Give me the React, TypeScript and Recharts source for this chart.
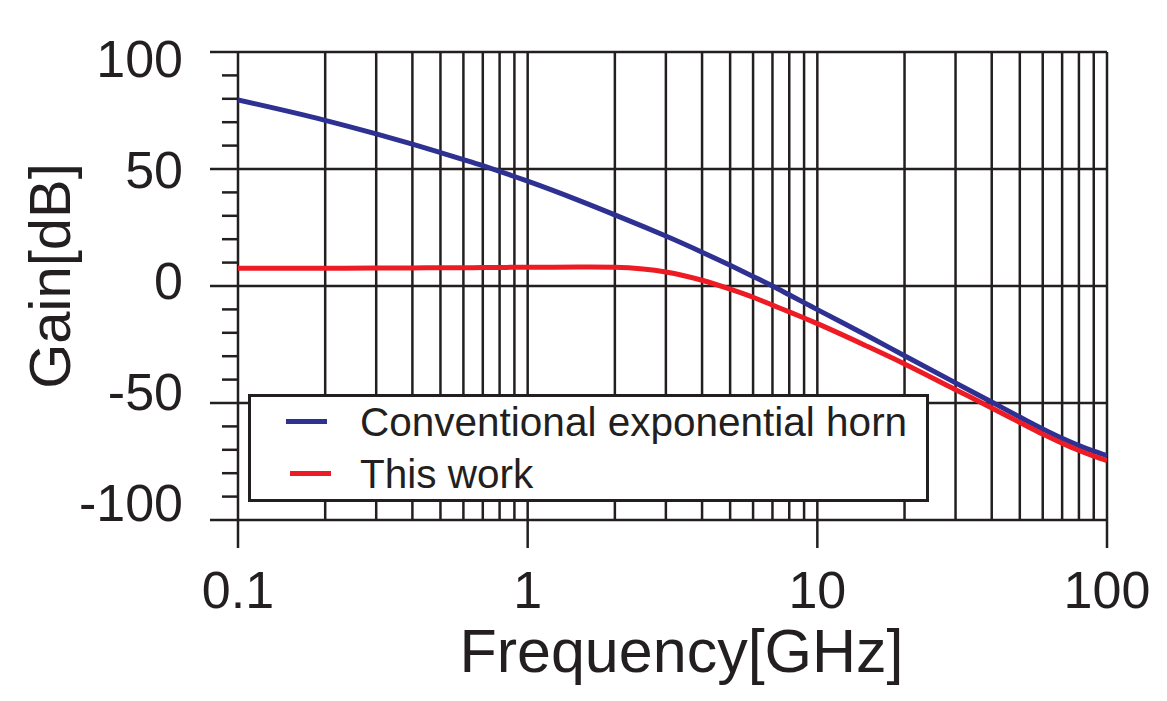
import { LineChart, Line, XAxis, YAxis, ReferenceLine, Legend } from 'recharts';

const freq = [0.1, 0.2, 0.3, 0.4, 0.5, 0.6, 0.7, 0.8, 0.9, 1, 1.5, 2, 2.5, 3, 4, 5, 6, 7, 8, 9, 10, 15, 20, 30, 40, 50, 60, 70, 80, 90, 100];
const conventional = [79.5, 70.8, 65.0, 60.6, 57.0, 54.0, 51.4, 49.0, 46.8, 44.8, 36.6, 30.4, 25.5, 21.35, 14.45, 8.85, 4.1, 0, -3.77, -7.1, -10.1, -21.5, -29.8, -41.4, -49.6, -56.0, -61.1, -65.1, -68.2, -70.6, -72.5];
const thisWork = [7.6, 7.6, 7.7, 7.7, 7.8, 7.8, 7.9, 7.9, 8.0, 8.0, 8.1, 8.0, 7.3, 6.0, 2.45, -1.35, -4.8, -8.2, -11.07, -13.7, -16.1, -26.0, -33.3, -44.3, -52.1, -58.3, -63.3, -67.2, -70.3, -72.7, -74.6];

const xTicks = [0.1, 1, 10, 100];
const xGrid = [0.1, 0.2, 0.3, 0.4, 0.5, 0.6, 0.7, 0.8, 0.9, 1, 2, 3, 4, 5, 6, 7, 8, 9, 10, 20, 30, 40, 50, 60, 70, 80, 90, 100];
const yTicks = [-100, -90, -80, -70, -60, -50, -40, -30, -20, -10, 0, 10, 20, 30, 40, 50, 60, 70, 80, 90, 100];
const yGrid = [100, 50, 0, -50, -100];

const data = freq.map((f, i) => ({ f, conventional: conventional[i], thisWork: thisWork[i] }));

const INK = '#231f20';
const FONT = '"Liberation Sans", Arial, Helvetica, sans-serif';
const PLOT_LEFT = 238;
const PLOT_BOTTOM = 520;

const YTick = (props: any) => {
  const { y, payload } = props;
  const v = payload.value;
  const major = v % 50 === 0;
  return (
    <g>
      <line x1={PLOT_LEFT - (major ? 28 : 16)} x2={PLOT_LEFT} y1={y} y2={y} stroke={INK} strokeWidth={2.5} />
      {major && (
        <text x={183} y={y + 19 + (v - 50) * 0.12} textAnchor="end" fontSize={52} fontFamily={FONT} fill={INK}>
          {v}
        </text>
      )}
    </g>
  );
};

const XTick = (props: any) => {
  const { x, payload } = props;
  return (
    <g>
      <line x1={x} x2={x} y1={PLOT_BOTTOM} y2={PLOT_BOTTOM + 28} stroke={INK} strokeWidth={2.5} />
      <text x={x} y={608} textAnchor="middle" fontSize={52} fontFamily={FONT} fill={INK}>
        {payload.value}
      </text>
    </g>
  );
};

const LegendBox = (props: any) => {
  const { payload } = props;
  return (
    <div
      style={{
        width: 681,
        height: 108,
        boxSizing: 'border-box',
        border: `3px solid ${INK}`,
        background: '#fff',
        position: 'relative',
        fontFamily: FONT,
        color: INK,
      }}
    >
      {(payload || []).map((p: any, i: number) => (
        <div key={p.value} style={{ position: 'absolute', left: 0, top: i === 0 ? 0 : 52, height: 54, width: '100%' }}>
          <div style={{ position: 'absolute', left: 35 + i * 4, top: 22, width: 41, height: 5, background: p.color }} />
          <div style={{ position: 'absolute', left: 109, top: 1, fontSize: 40.5, lineHeight: '48px', whiteSpace: 'nowrap' }}>{p.value}</div>
        </div>
      ))}
    </div>
  );
};

export default function App() {
  return (
    <div style={{ position: 'absolute', left: 0, top: 0 }}>
      <LineChart width={1167} height={701} data={data} margin={{ top: 52, right: 60, bottom: 81, left: 0 }}>
        <XAxis
          dataKey="f"
          type="number"
          scale="log"
          domain={[0.1, 100]}
          ticks={xTicks}
          interval={0}
          allowDataOverflow
          height={100}
          axisLine={false}
          tickLine={false}
          tick={<XTick />}
          label={{
            content: (p: any) => (
              <text
                x={p.viewBox.x + p.viewBox.width / 2 + 9}
                y={672}
                textAnchor="middle"
                fontSize={61}
                fontFamily={FONT}
                fill={INK}
              >
                Frequency[GHz]
              </text>
            ),
          }}
        />
        <YAxis
          type="number"
          domain={[-100, 100]}
          ticks={yTicks}
          interval={0}
          width={238}
          axisLine={false}
          tickLine={false}
          tick={<YTick />}
          label={{
            content: () => (
              <text
                x={70}
                y={276}
                transform="rotate(-90 70 276)"
                textAnchor="middle"
                fontSize={58}
                fontFamily={FONT}
                fill={INK}
              >
                Gain[dB]
              </text>
            ),
          }}
        />
        {xGrid.map((v) => (
          <ReferenceLine key={`x${v}`} x={v} stroke={INK} strokeWidth={2.5} />
        ))}
        {yGrid.map((v) => (
          <ReferenceLine key={`y${v}`} y={v} stroke={INK} strokeWidth={2.5} />
        ))}
        <Line
          type="monotone"
          dataKey="conventional"
          name="Conventional exponential horn"
          stroke="#2e3192"
          strokeWidth={5}
          dot={false}
          isAnimationActive={false}
        />
        <Line
          type="monotone"
          dataKey="thisWork"
          name="This work"
          stroke="#ed1c24"
          strokeWidth={5}
          dot={false}
          isAnimationActive={false}
        />
        <Legend
          layout="horizontal"
          verticalAlign="middle"
          align="center"
          content={<LegendBox />}
          wrapperStyle={{ position: 'absolute', left: 248, top: 394, width: 681, height: 108 }}
        />
      </LineChart>
    </div>
  );
}
